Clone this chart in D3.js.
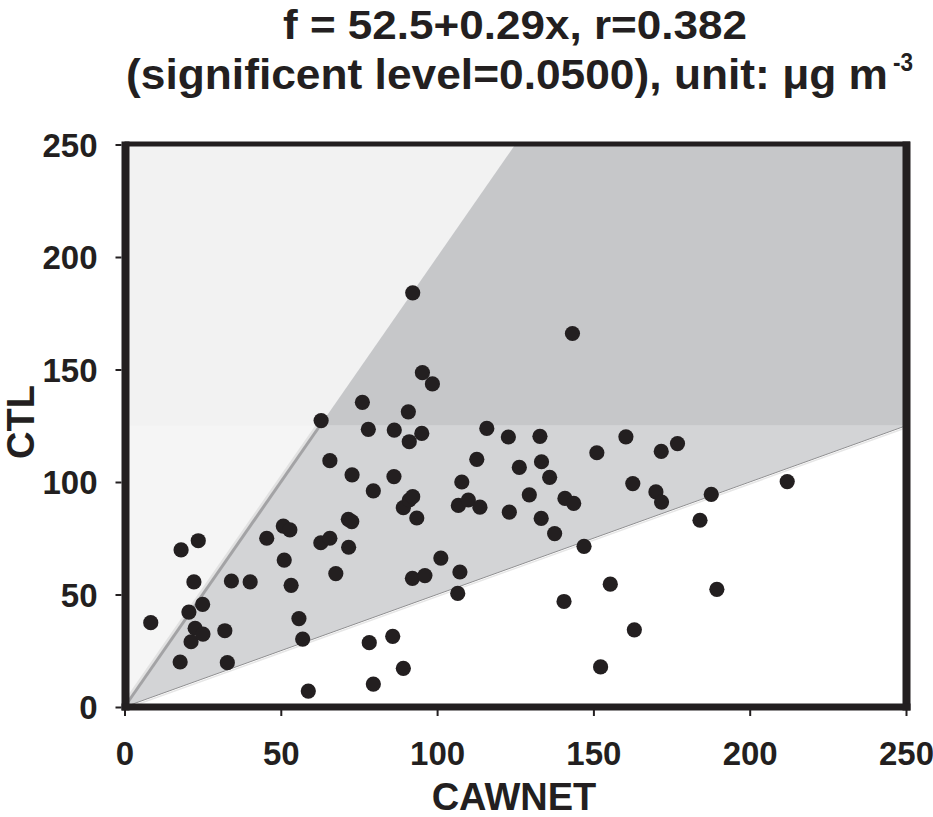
<!DOCTYPE html>
<html>
<head>
<meta charset="utf-8">
<script src="https://cdn.jsdelivr.net/npm/d3@7/dist/d3.min.js"></script>
<style>
  html, body { margin: 0; padding: 0; background: #fff; }
  svg { display: block; }
  text { font-family: "Liberation Sans", Arial, Helvetica, sans-serif; font-weight: bold; fill: #231f20; }
</style>
</head>
<body>
<script>
// ---- data ----
const cawnet = [8.4,18.1,23.6,17.8,22.2,20.6,25.0,22.6,21.3,25.1,32.1,32.9,34.2,40.2,45.5,50.8,52.9,51.1,53.3,55.8,
  57.0,58.8,62.9,62.8,65.7,65.7,67.6,71.6,72.7,71.7,72.8,76.1,78.0,78.3,79.6,79.6,85.8,86.2,86.3,89.2,
  90.8,91.1,89.2,91.1,92.2,92.2,93.5,92.1,95.1,95.3,98.5,96.1,101.2,106.6,106.8,107.9,107.3,110.0,112.7,113.7,
  115.9,123.1,122.8,126.3,129.5,132.9,133.4,133.3,136.0,137.6,140.6,140.9,143.7,143.3,147.0,151.1,152.3,155.4,160.4,162.6,
  163.1,170.0,171.8,171.7,176.9,184.1,187.7,189.5,212.0];
const ctl = [37.5,69.8,73.9,20.0,55.6,42.2,45.6,35.0,29.0,32.4,33.9,19.7,56.0,55.6,75.0,80.4,78.7,65.3,54.1,39.3,
  30.2,7.1,127.3,73.0,75.0,109.5,59.3,83.4,82.4,71.0,103.2,135.4,123.4,28.6,96.1,10.2,31.4,102.4,123.1,17.2,
  131.2,117.9,88.6,92.0,93.5,184.1,84.0,57.2,121.6,148.6,143.6,58.4,66.2,50.5,89.6,100.0,60.0,92.0,110.1,88.8,
  123.8,86.6,120.0,106.5,94.3,120.3,109.0,83.8,102.1,77.1,46.9,92.7,90.5,166.0,71.4,113.0,17.8,54.6,120.1,99.3,
  34.3,95.6,91.1,113.6,117.1,83.0,94.5,52.3,100.2];
const xTicks = [0, 50, 100, 150, 200, 250];
const yTicks = [0, 50, 100, 150, 200, 250];
const axisMax = 250;
const upperRatio = 2;     // 1:2 line
const lowerRatio = 0.5;   // 2:1 line
const bandSplit = 125;    // horizontal split of shaded band
const titleLine1 = "f = 52.5+0.29x, r=0.382";
const titleLine2 = "(significent level=0.0500), unit: \u03BCg m";
const titleSup = "-3";
const xLabel = "CAWNET";
const yLabel = "CTL";

// ---- layout ----
const W = 933, H = 817;
const svg = d3.select("body").append("svg").attr("width", W).attr("height", H);
const x = d3.scaleLinear().domain([0, axisMax]).range([124.5, 906]);
const y = d3.scaleLinear().domain([0, axisMax]).range([707, 144.5]);
const line = d3.line().x(d => x(d[0])).y(d => y(d[1]));

// backgrounds
const g = svg.append("g");
g.append("path").attr("d", line([[0,0],[0,axisMax],[axisMax,axisMax],[axisMax,0]]) + "Z").attr("fill", "#f2f2f2");
g.append("path").attr("d", line([[0,bandSplit],[0,0],[bandSplit/upperRatio,bandSplit]]) + "Z").attr("fill", "#f5f5f5");
g.append("path").attr("d", line([[bandSplit/upperRatio,bandSplit],[axisMax/upperRatio,axisMax],[axisMax,axisMax],[axisMax,bandSplit]]) + "Z").attr("fill", "#c6c7c9");
g.append("path").attr("d", line([[0,0],[bandSplit/upperRatio,bandSplit],[axisMax,bandSplit],[axisMax,axisMax*lowerRatio]]) + "Z").attr("fill", "#d3d4d6");
g.append("path").attr("d", line([[0,0],[axisMax,axisMax*lowerRatio],[axisMax,0]]) + "Z").attr("fill", "#ffffff");

// diagonal lines
g.append("path").attr("d", line([[0,0],[bandSplit/upperRatio,bandSplit]]))
  .attr("transform", "translate(-3,0)").attr("stroke", "#e2e2e2").attr("stroke-width", 3).attr("fill", "none");
g.append("path").attr("d", line([[0,0],[bandSplit/upperRatio,bandSplit]]))
  .attr("stroke", "#a3a3a5").attr("stroke-width", 3).attr("fill", "none");
g.append("path").attr("d", line([[0,0],[axisMax,axisMax*lowerRatio]]))
  .attr("stroke", "#8e8e90").attr("stroke-width", 1).attr("fill", "none");
g.append("path").attr("d", line([[0,0],[axisMax,axisMax*lowerRatio]]))
  .attr("transform", "translate(0,2)").attr("stroke", "#e6e6e6").attr("stroke-width", 1.5).attr("fill", "none");

// points
svg.append("g").selectAll("circle").data(cawnet.map((v, i) => [v, ctl[i]])).join("circle")
  .attr("cx", d => x(d[0])).attr("cy", d => y(d[1])).attr("r", 7.6).attr("fill", "#231f20");

// frame
const fr = svg.append("g").attr("stroke", "#231f20").attr("fill", "none");
fr.append("line").attr("x1", x(0)).attr("x2", x(axisMax)+4).attr("y1", y(axisMax)-0.5).attr("y2", y(axisMax)-0.5).attr("stroke-width", 5);
fr.append("line").attr("x1", x(0)+1).attr("x2", x(0)+1).attr("y1", y(axisMax)-3).attr("y2", y(0)+3.5).attr("stroke-width", 8);
fr.append("line").attr("x1", x(axisMax)+0.5).attr("x2", x(axisMax)+0.5).attr("y1", y(axisMax)-3).attr("y2", y(0)+3.5).attr("stroke-width", 8);
fr.append("line").attr("x1", x(0)-3).attr("x2", x(axisMax)+4.5).attr("y1", y(0)).attr("y2", y(0)).attr("stroke-width", 7);

// axes
const xa = svg.append("g").attr("transform", `translate(0,${y(0)+3})`)
  .call(d3.axisBottom(x).tickValues(xTicks).tickSize(6).tickPadding(0));
xa.select(".domain").remove();
xa.selectAll(".tick line").attr("stroke", "#231f20").attr("stroke-width", 2);
xa.selectAll(".tick text").attr("y", 55).attr("dy", 0).attr("font-size", 33).attr("fill", "#231f20")
  .style("font-family", "'Liberation Sans', Arial, sans-serif").style("font-weight", "bold");

const ya = svg.append("g").attr("transform", `translate(${x(0)-3},0)`)
  .call(d3.axisLeft(y).tickValues(yTicks).tickSize(6).tickPadding(0));
ya.select(".domain").remove();
ya.selectAll(".tick line").attr("stroke", "#231f20").attr("stroke-width", 2);
ya.selectAll(".tick text").attr("x", -24).attr("dy", "0.36em").attr("font-size", 33).attr("fill", "#231f20")
  .style("font-family", "'Liberation Sans', Arial, sans-serif").style("font-weight", "bold");

// axis titles
svg.append("text").attr("x", 514).attr("y", 810).attr("text-anchor", "middle").attr("font-size", 38).text(xLabel);
svg.append("text").attr("transform", "translate(34,422) rotate(-90)").attr("text-anchor", "middle").attr("font-size", 38).text(yLabel);

// title
svg.append("text").attr("x", 283).attr("y", 39).attr("font-size", 41)
  .attr("textLength", 464).attr("lengthAdjust", "spacingAndGlyphs").text(titleLine1);
svg.append("text").attr("x", 126).attr("y", 89).attr("font-size", 42)
  .attr("textLength", 762).attr("lengthAdjust", "spacingAndGlyphs").text(titleLine2);
svg.append("text").attr("x", 893).attr("y", 71).attr("font-size", 26)
  .attr("textLength", 20).attr("lengthAdjust", "spacingAndGlyphs").text(titleSup);
</script>
</body>
</html>
